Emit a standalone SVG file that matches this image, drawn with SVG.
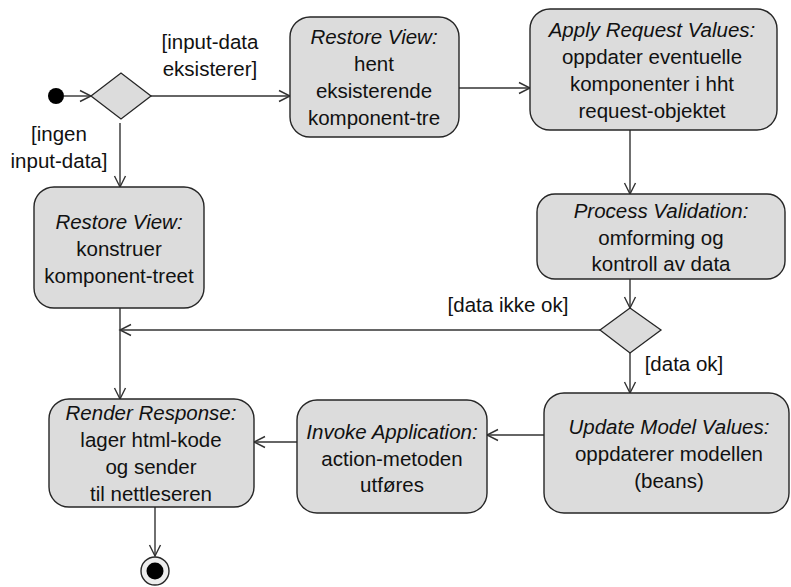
<svg xmlns="http://www.w3.org/2000/svg" width="791" height="587" viewBox="0 0 791 587">
  <style>
    .box { fill: #dcdcdc; stroke: #262626; stroke-width: 1.4; }
    .dec { fill: #dcdcdc; stroke: #262626; stroke-width: 1.3; }
    .edge { fill: none; stroke: #333333; stroke-width: 1.4; marker-end: url(#open); }
    .plain { fill: none; stroke: #333333; stroke-width: 1.4; }
    text { font-family: "Liberation Sans", Arial, sans-serif; font-size: 20.5px; fill: #111111; text-anchor: middle; }
    .t { font-style: italic; }
  </style>
  <defs>
    <marker id="open" markerWidth="14" markerHeight="14" viewBox="0 0 14 14" refX="12" refY="7" orient="auto" markerUnits="userSpaceOnUse">
      <path d="M1,1.5 L12,7 L1,12.5" fill="none" stroke="#333333" stroke-width="1.4"/>
    </marker>
  </defs>

  <!-- connectors -->
  <g id="connectors">
    <line class="edge" x1="64" y1="96" x2="91" y2="96"/>
    <line class="edge" x1="151" y1="96" x2="290" y2="96"/>
    <line class="edge" x1="120" y1="123" x2="120" y2="187"/>
    <line class="edge" x1="459" y1="88" x2="530" y2="88"/>
    <line class="edge" x1="630" y1="130" x2="630" y2="194"/>
    <line class="edge" x1="630" y1="279" x2="630" y2="308"/>
    <line class="edge" x1="600" y1="330" x2="120" y2="330"/>
    <line class="edge" x1="630" y1="353" x2="630" y2="393"/>
    <line class="edge" x1="120" y1="308" x2="120" y2="399"/>
    <line class="edge" x1="544" y1="435" x2="487" y2="435"/>
    <line class="edge" x1="297" y1="442" x2="254" y2="442"/>
    <line class="edge" x1="155" y1="507" x2="155" y2="556"/>
    <text x="210" y="49">[input-data</text>
    <text x="210" y="76">eksisterer]</text>
    <text x="59" y="141">[ingen</text>
    <text x="59" y="168">input-data]</text>
    <text x="508" y="312">[data ikke ok]</text>
    <text x="684" y="371">[data ok]</text>
  </g>

  <!-- start node -->
  <g id="start">
    <circle cx="56" cy="96" r="8" fill="#000"/>
  </g>

  <!-- first decision -->
  <g id="decision1">
    <polygon class="dec" points="91,96 121,73 151,96 121,119"/>
  </g>

  <g id="restoreExisting">
    <rect class="box" x="290" y="17" width="169" height="120" rx="20"/>
    <text class="t" x="374" y="44">Restore View:</text>
    <text x="374" y="71">hent</text>
    <text x="374" y="98">eksisterende</text>
    <text x="374" y="125">komponent-tre</text>
  </g>

  <g id="applyRequest">
    <rect class="box" x="530" y="9" width="247" height="121" rx="20"/>
    <text class="t" x="652" y="37">Apply Request Values:</text>
    <text x="652" y="64">oppdater eventuelle</text>
    <text x="652" y="91">komponenter i hht</text>
    <text x="652" y="118">request-objektet</text>
  </g>

  <g id="restoreNew">
    <rect class="box" x="34" y="187" width="170" height="121" rx="20"/>
    <text class="t" x="119" y="229">Restore View:</text>
    <text x="119" y="256">konstruer</text>
    <text x="119" y="283">komponent-treet</text>
  </g>

  <g id="processValidation">
    <rect class="box" x="537" y="194" width="248" height="85" rx="18"/>
    <text class="t" x="661" y="218">Process Validation:</text>
    <text x="661" y="245">omforming og</text>
    <text x="661" y="271">kontroll av data</text>
  </g>

  <g id="decision2">
    <polygon class="dec" points="600,330 630,308 661,330 630,353"/>
  </g>

  <g id="updateModel">
    <rect class="box" x="544" y="393" width="245" height="120" rx="20"/>
    <text class="t" x="669" y="434">Update Model Values:</text>
    <text x="669" y="461">oppdaterer modellen</text>
    <text x="669" y="488">(beans)</text>
  </g>

  <g id="invokeApplication">
    <rect class="box" x="297" y="400" width="190" height="113" rx="20"/>
    <text class="t" x="392" y="439">Invoke Application:</text>
    <text x="392" y="466">action-metoden</text>
    <text x="392" y="492">utføres</text>
  </g>

  <g id="renderResponse">
    <rect class="box" x="49" y="399" width="205" height="108" rx="20"/>
    <text class="t" x="151" y="420">Render Response:</text>
    <text x="151" y="447">lager html-kode</text>
    <text x="151" y="474">og sender</text>
    <text x="151" y="501">til nettleseren</text>
  </g>

  <!-- final node -->
  <g id="end">
    <circle cx="155" cy="571" r="14" fill="#ededed" stroke="#262626" stroke-width="1.4"/>
    <circle cx="155" cy="571" r="8.5" fill="#000"/>
  </g>
</svg>
